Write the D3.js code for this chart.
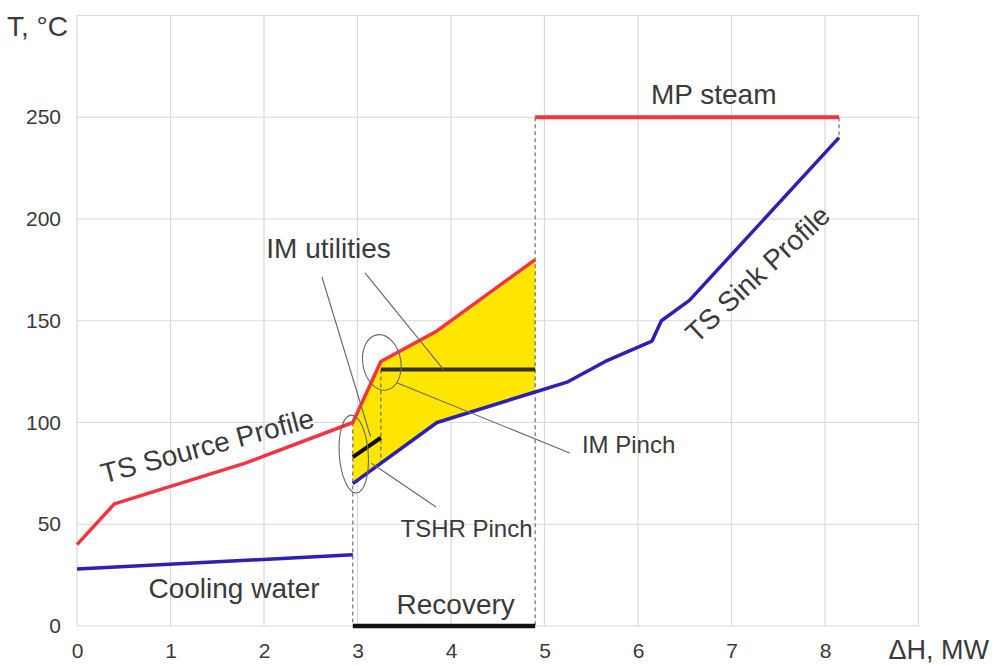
<!DOCTYPE html>
<html>
<head>
<meta charset="utf-8">
<script src="https://cdn.jsdelivr.net/npm/d3@7"></script>
<style>
  body { margin: 0; background: #fff; }
  text { font-family: "Liberation Sans", Arial, sans-serif; fill: #3a3a3a; }
</style>
</head>
<body>
<div id="wrapper"></div>
<script>
// data: [dH MW, T degC]
const sourceProfile = [[0, 40], [0.4, 60], [1.8, 80], [2.95, 100], [3.25, 130], [3.85, 145], [4.9, 180]];
const sinkProfile = [[2.95, 70], [3.85, 100], [4.9, 115], [5.25, 120], [5.65, 130], [6.15, 140], [6.25, 150], [6.55, 160], [8.15, 240]];
const coolingWater = [[0, 28], [2.95, 35]];
const mpSteam = [[4.9, 250], [8.15, 250]];
const recovery = [[2.95, 0], [4.9, 0]];
const imUtility = [[3.25, 126], [4.9, 126]];
const tshrPinch = [[2.95, 83], [3.25, 92.5]];
const dashedLines = [
  [[2.95, 100], [2.95, 0]],
  [[4.9, 250], [4.9, 0]],
  [[3.25, 126], [3.25, 80]],
  [[8.15, 250], [8.15, 240]]
];
const xTicks = [0, 1, 2, 3, 4, 5, 6, 7, 8];
const yTicks = [0, 50, 100, 150, 200, 250];

(() => {
  const xAccessor = d => d[0];
  const yAccessor = d => d[1];

  const dimensions = {
    width: 993,
    height: 666,
    margin: { top: 15.5, right: 74.5, bottom: 40, left: 77 }
  };
  dimensions.boundedWidth = dimensions.width - dimensions.margin.left - dimensions.margin.right;
  dimensions.boundedHeight = dimensions.height - dimensions.margin.top - dimensions.margin.bottom;

  const xScale = d3.scaleLinear()
    .domain([0, 9])
    .range([0, dimensions.boundedWidth]);

  const yScale = d3.scaleLinear()
    .domain([0, 300])
    .range([dimensions.boundedHeight, 0]);

  const red = "#f8323f";
  const blue = "#2c20b6";

  const wrapper = d3.select("#wrapper")
    .append("svg")
    .attr("width", dimensions.width)
    .attr("height", dimensions.height);

  const bounds = wrapper.append("g")
    .attr("transform", `translate(${dimensions.margin.left}, ${dimensions.margin.top})`);

  // grid
  bounds.append("g")
    .selectAll("line")
    .data(d3.range(0, 10))
    .join("line")
    .attr("x1", d => xScale(d)).attr("x2", d => xScale(d))
    .attr("y1", 0).attr("y2", dimensions.boundedHeight)
    .attr("stroke", "#d9d9d9").attr("stroke-width", 1.2);

  bounds.append("g")
    .selectAll("line")
    .data(d3.range(0, 301, 50))
    .join("line")
    .attr("y1", d => yScale(d)).attr("y2", d => yScale(d))
    .attr("x1", 0).attr("x2", dimensions.boundedWidth)
    .attr("stroke", "#d9d9d9").attr("stroke-width", 1.2);

  // axes (labels only)
  const xAxisGenerator = d3.axisBottom(xScale).tickValues(xTicks).tickSize(0).tickPadding(17);
  const yAxisGenerator = d3.axisLeft(yScale).tickValues(yTicks).tickSize(0).tickPadding(16);

  const xAxis = bounds.append("g")
    .attr("transform", `translate(0, ${dimensions.boundedHeight})`)
    .call(xAxisGenerator);
  const yAxis = bounds.append("g").call(yAxisGenerator);
  [xAxis, yAxis].forEach(a => {
    a.select(".domain").remove();
    a.selectAll("text").style("font-size", "21px").attr("fill", "#3a3a3a")
      .style("font-family", "'Liberation Sans', Arial, sans-serif");
  });

  wrapper.append("text")
    .attr("x", 7).attr("y", 36)
    .style("font-size", "28px")
    .text("T, °C");

  wrapper.append("text")
    .attr("x", 989).attr("y", 659)
    .attr("text-anchor", "end")
    .style("font-size", "27px")
    .text("ΔH, MW");

  const lineGenerator = d3.line()
    .x(d => xScale(xAccessor(d)))
    .y(d => yScale(yAccessor(d)));

  // yellow recovery area between the two profiles
  const areaPoints = sourceProfile.filter(d => d[0] >= 2.95)
    .concat(sinkProfile.filter(d => d[0] <= 4.9).slice().reverse());
  bounds.append("path")
    .attr("d", lineGenerator(areaPoints) + "Z")
    .attr("fill", "#ffe600");

  // dashed guides
  bounds.append("g")
    .selectAll("path")
    .data(dashedLines)
    .join("path")
    .attr("d", lineGenerator)
    .attr("fill", "none")
    .attr("stroke", "#555")
    .attr("stroke-width", 1)
    .attr("stroke-dasharray", "4,3");

  const drawLine = (data, color, width) => bounds.append("path")
    .attr("d", lineGenerator(data))
    .attr("fill", "none")
    .attr("stroke", color)
    .attr("stroke-width", width)
    .attr("stroke-linejoin", "round");

  drawLine(coolingWater, blue, 3.5);
  drawLine(sinkProfile, blue, 3.5);
  drawLine(sourceProfile, red, 3.5);
  drawLine(mpSteam, red, 4);
  drawLine(recovery, "#111", 4.5);
  drawLine(imUtility, "#333", 4);
  drawLine(tshrPinch, "#111", 4);

  // annotation ellipses
  const ellipses = [
    { cx: 2.96, cy: 84.5, rx: 14.5, ry: 39, rot: -4 },
    { cx: 3.26, cy: 129.5, rx: 19, ry: 28, rot: -10 }
  ];
  bounds.append("g")
    .selectAll("ellipse")
    .data(ellipses)
    .join("ellipse")
    .attr("transform", d => `translate(${xScale(d.cx)}, ${yScale(d.cy)}) rotate(${d.rot})`)
    .attr("rx", d => d.rx).attr("ry", d => d.ry)
    .attr("fill", "none")
    .attr("stroke", "#666")
    .attr("stroke-width", 1.1);

  // leader lines
  const leaders = [
    [[2.62, 171.5], [3.14, 93]],
    [[3.08, 173.5], [3.92, 126]],
    [[3.42, 119.5], [5.27, 85]],
    [[3.15, 80], [3.84, 58.5]]
  ];
  bounds.append("g")
    .selectAll("path")
    .data(leaders)
    .join("path")
    .attr("d", lineGenerator)
    .attr("stroke", "#666")
    .attr("stroke-width", 1.1)
    .attr("fill", "none");

  // labels
  const labels = [
    { text: "MP steam", x: 6.81, y: 256.5, size: 28, anchor: "middle", rot: 0 },
    { text: "IM utilities", x: 2.69, y: 180.7, size: 28, anchor: "middle", rot: 0 },
    { text: "Cooling water", x: 1.68, y: 13.8, size: 28, anchor: "middle", rot: 0 },
    { text: "Recovery", x: 4.05, y: 5.9, size: 28, anchor: "middle", rot: 0 },
    { text: "IM Pinch", x: 5.4, y: 85, size: 24, anchor: "start", rot: 0 },
    { text: "TSHR Pinch", x: 3.46, y: 43.7, size: 24, anchor: "start", rot: 0 },
    { text: "TS Source Profile", x: 1.42, y: 84, size: 28, anchor: "middle", rot: -15 },
    { text: "TS Sink Profile", x: 7.35, y: 169.5, size: 28, anchor: "middle", rot: -43 }
  ];
  bounds.append("g")
    .selectAll("text")
    .data(labels)
    .join("text")
    .attr("transform", d => `translate(${xScale(d.x)}, ${yScale(d.y)}) rotate(${d.rot})`)
    .attr("text-anchor", d => d.anchor)
    .style("font-size", d => d.size + "px")
    .text(d => d.text);
})();
</script>
</body>
</html>
